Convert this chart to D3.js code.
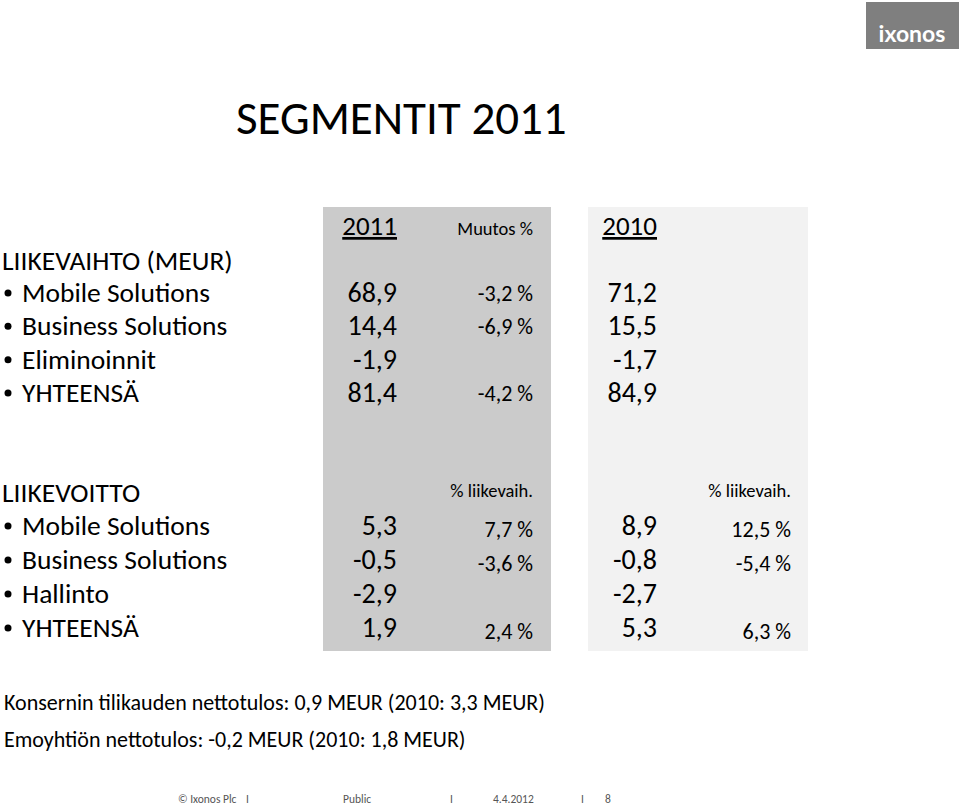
<!DOCTYPE html>
<html><head><meta charset="utf-8">
<script src="https://cdn.jsdelivr.net/npm/d3@7"></script>
<style>
body{margin:0;background:#fff}
text{font-family:Carlito,"Liberation Sans Narrow","Liberation Sans",sans-serif;fill:#000}
</style></head><body>
<svg id="c" width="960" height="808"></svg>
<script>
// data
var salesLabels = ['Mobile Solutions', 'Business Solutions', 'Eliminoinnit', 'YHTEENSÄ'];
var sales2011 = ['68,9', '14,4', '-1,9', '81,4'];
var salesChange = ['-3,2 %', '-6,9 %', '', '-4,2 %'];
var sales2010 = ['71,2', '15,5', '-1,7', '84,9'];
var profitLabels = ['Mobile Solutions', 'Business Solutions', 'Hallinto', 'YHTEENSÄ'];
var profit2011 = ['5,3', '-0,5', '-2,9', '1,9'];
var profitPct2011 = ['7,7 %', '-3,6 %', '', '2,4 %'];
var profit2010 = ['8,9', '-0,8', '-2,7', '5,3'];
var profitPct2010 = ['12,5 %', '-5,4 %', '', '6,3 %'];
var notes = ['Konsernin tilikauden nettotulos:  0,9 MEUR (2010: 3,3 MEUR)',
             'Emoyhtiön nettotulos:  -0,2 MEUR  (2010: 1,8 MEUR)'];
var footer = ['© Ixonos Plc', 'I', 'Public', 'I', '4.4.2012', 'I', '8'];

var svg = d3.select('#c');

// panels
svg.append('rect').attr('x', 323).attr('y', 207).attr('width', 228).attr('height', 444).attr('fill', '#cbcbcb');
svg.append('rect').attr('x', 588).attr('y', 207).attr('width', 220).attr('height', 444).attr('fill', '#f2f2f2');

// logo
svg.append('rect').attr('x', 866).attr('y', 2).attr('width', 93).attr('height', 47).attr('fill', '#7f7f7f');
svg.append('text').attr('x', 912).attr('y', 42).attr('text-anchor', 'middle')
	.style('font-family', 'Lato,sans-serif').style('font-size', '23px').style('font-weight', 'bold')
	.style('fill', '#fff').text('ixonos');

function t(x, y, s, size, anchor) {
	return svg.append('text').attr('x', x).attr('y', y).attr('text-anchor', anchor || 'start')
		.style('font-size', size + 'px').text(s);
}
t(236, 134, 'SEGMENTIT 2011', 47);

// headers
t(397, 235, '2011', 27, 'end').attr('text-decoration', 'underline');
t(533, 235, 'Muutos %', 18.5, 'end');
t(657, 235, '2010', 27, 'end').attr('text-decoration', 'underline');
t(2, 270, 'LIIKEVAIHTO (MEUR)', 27.5);
t(2, 502, 'LIIKEVOITTO', 27.5);
t(533, 497, '% liikevaih.', 18.5, 'end');
t(791, 497, '% liikevaih.', 18.5, 'end');

var ySales = d3.scaleLinear().domain([0, 3]).range([302, 402]);
var yProfit = d3.scaleLinear().domain([0, 3]).range([535, 637]);

function block(labels, y, cols) {
	labels.forEach(function(l, i) {
		svg.append('circle').attr('cx', 8).attr('cy', y(i) - 9).attr('r', 3.5).attr('fill', '#000');
		t(22, y(i), l, 27.5);
	});
	cols.forEach(function(c) {
		c.vals.forEach(function(v, i) { t(c.x, y(i) + (c.dy || 0), v, c.size, 'end'); });
	});
}
block(salesLabels, ySales, [
	{vals: sales2011, x: 397, size: 28},
	{vals: salesChange, x: 533, size: 22, dy: -1},
	{vals: sales2010, x: 657, size: 28}
]);
block(profitLabels, yProfit, [
	{vals: profit2011, x: 397, size: 28},
	{vals: profitPct2011, x: 533, size: 22, dy: 2},
	{vals: profit2010, x: 657, size: 28},
	{vals: profitPct2010, x: 791, size: 22, dy: 2}
]);

notes.forEach(function(n, i) { t(4, 710 + i * 37, n, 22); });

var fx = [178, 246, 343, 450, 493, 581, 605];
footer.forEach(function(f, i) {
	t(fx[i], 803, f, 11.5).style('fill', '#555');
});
</script>
</body></html>
